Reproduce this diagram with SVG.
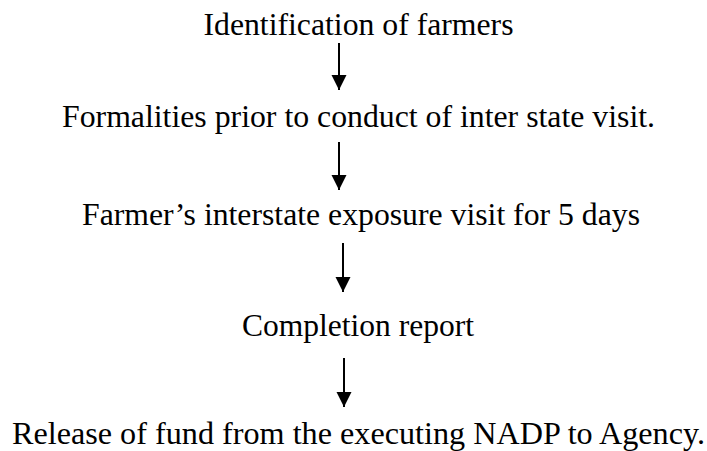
<svg xmlns="http://www.w3.org/2000/svg" width="707" height="451" viewBox="0 0 707 451">
<style>
text{font-family:"Liberation Serif","Times New Roman",serif;font-size:31px;fill:#000;text-anchor:middle}
.c line{stroke:#000;stroke-width:2;marker-end:url(#ah)}
</style>
<defs>
<marker id="ah" markerUnits="userSpaceOnUse" markerWidth="16" markerHeight="16" refX="15" refY="7.5" orient="auto">
<path d="M0,0 L15,7.5 L0,15 z" fill="#000"/>
</marker>
</defs>
<rect width="707" height="451" fill="#fff"/>
<g id="n1"><text x="358.5" y="35" textLength="310" lengthAdjust="spacingAndGlyphs">Identification of farmers</text></g>
<g id="n2"><text x="358.5" y="127" textLength="593" lengthAdjust="spacingAndGlyphs">Formalities prior to conduct of inter state visit.</text></g>
<g id="n3"><text x="361" y="225" textLength="558" lengthAdjust="spacingAndGlyphs">Farmer’s interstate exposure visit for 5 days</text></g>
<g id="n4"><text x="358" y="336" textLength="232" lengthAdjust="spacingAndGlyphs">Completion report</text></g>
<g id="n5"><text x="358.5" y="444" textLength="693" lengthAdjust="spacingAndGlyphs">Release of fund from the executing NADP to Agency.</text></g>
<g id="connectors" class="c">
<line x1="339" y1="43" x2="339" y2="90"/>
<line x1="339" y1="142" x2="339" y2="190"/>
<line x1="343" y1="243" x2="343" y2="292"/>
<line x1="344" y1="358" x2="344" y2="407"/>
</g>
</svg>
